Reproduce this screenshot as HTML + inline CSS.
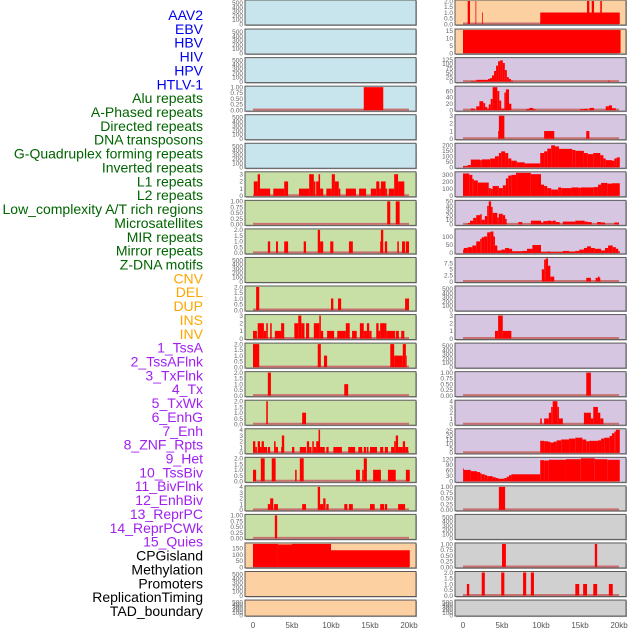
<!DOCTYPE html>
<html><head><meta charset="utf-8"><style>
html,body{margin:0;padding:0;background:#fff;width:630px;height:630px;overflow:hidden}
svg{display:block}
.lbl{font-family:"Liberation Sans",sans-serif;font-size:14px}
.tk{font-family:"Liberation Sans",sans-serif;font-size:6.5px;fill:#666}
.xt{font-family:"Liberation Sans",sans-serif;font-size:8px;fill:#555}
</style></head><body>
<svg id="chart" width="630" height="630" viewBox="0 0 630 630" xmlns="http://www.w3.org/2000/svg"></svg>
<script>
const labelNames=["AAV2","EBV","HBV","HIV","HPV","HTLV-1","Alu repeats","A-Phased repeats","Directed repeats","DNA transposons","G-Quadruplex forming repeats","Inverted repeats","L1 repeats","L2 repeats","Low_complexity A/T rich regions","Microsatellites","MIR repeats","Mirror repeats","Z-DNA motifs","CNV","DEL","DUP","INS","INV","1_TssA","2_TssAFlnk","3_TxFlnk","4_Tx","5_TxWk","6_EnhG","7_Enh","8_ZNF_Rpts","9_Het","10_TssBiv","11_BivFlnk","12_EnhBiv","13_ReprPC","14_ReprPCWk","15_Quies","CPGisland","Methylation","Promoters","ReplicationTiming","TAD_boundary"];
const labelColors=["#0000ee","#0000ee","#0000ee","#0000ee","#0000ee","#0000ee","#006400","#006400","#006400","#006400","#006400","#006400","#006400","#006400","#006400","#006400","#006400","#006400","#006400","#ffa500","#ffa500","#ffa500","#ffa500","#ffa500","#a020f0","#a020f0","#a020f0","#a020f0","#a020f0","#a020f0","#a020f0","#a020f0","#a020f0","#a020f0","#a020f0","#a020f0","#a020f0","#a020f0","#a020f0","#000","#000","#000","#000","#000"];
const xTickKb=[0,5,10,15,20];
const xTickLabels=["0","5kb","10kb","15kb","20kb"];
const emptyTicks=[0,100,200,300,400,500];
// left column segments [startKb,endKb,value]
const L3=[[14.2,16.7,1]];
const L6=[[0.1,0.6,2],[0.6,0.9,3],[0.9,2.2,1],[2.6,4,1],[4,4.5,2],[5.9,7.2,1],[7.2,7.8,3],[7.8,8.0,2],[8.1,8.4,2],[8.4,8.6,3],[8.6,9,1],[9.4,10.1,1],[10.1,10.5,3],[10.5,11,2],[11,11.2,1],[11.9,13.2,1],[13.6,14.5,1],[15.1,15.8,1],[15.8,16.2,2],[16.2,16.4,1],[16.4,17,2],[17,17.2,1],[17.4,18.1,1],[18.1,18.6,3],[18.6,19.4,2]];
const L7=[[17.2,17.6,1],[18.3,18.8,1]];
const L8=[[1.9,2.2,1],[2.95,3.2,1],[4,4.5,1],[6.5,6.8,1],[8.3,8.6,2],[8.6,9,1],[9.9,10.3,1],[12.3,12.8,1],[16.3,16.4,1],[16.4,16.7,2],[16.9,17.2,1],[18.5,18.7,1],[19.1,19.5,1],[19.6,20,1]];
const L10=[[0.4,0.8,2],[10,10.3,1],[10.9,11.3,1],[19.5,20,1]];
const L11=[[0,0.5,1],[0.6,1.4,2],[1.4,1.7,1],[1.7,1.9,2],[2.2,2.4,2],[2.8,3.6,1],[3.6,4,2],[5.3,5.8,2],[5.8,6.2,3],[6.2,6.6,2],[6.8,7.2,2],[7.8,8.5,2],[8.5,8.7,3],[8.7,9,1],[9.5,10.4,1],[10.8,11.9,1],[11.9,12.4,2],[12.7,13.3,1],[13.7,14.2,2],[14.2,14.6,1],[14.6,14.9,2],[14.9,15.2,1],[15.8,16.1,2],[16.1,16.3,1],[16.3,16.8,2],[16.8,17.1,2],[17.1,17.3,1],[17.3,18.2,1],[18.3,18.7,1],[19,19.4,1]];
const L12=[[0,0.8,2],[8.3,8.7,2],[9.1,9.5,1],[17.6,18.1,2],[18.1,19.2,1],[19.2,19.6,2],[19.6,19.7,1]];
const L13=[[1.9,2.3,2],[11.7,12.2,1]];
const L14=[[1.7,1.9,2],[6.3,6.8,1]];
const L15=[[0,0.3,2],[0.3,0.5,1],[0.6,0.9,2],[0.9,1.1,1],[1.1,1.4,2],[1.4,1.8,1],[1.9,2.2,1],[2.7,2.9,2],[2.9,3.2,1],[3.6,3.7,1],[3.7,4,3],[5,5.3,1],[6,6.8,1],[6.9,7.2,2],[7.2,7.5,1],[7.6,7.8,2],[7.8,8.1,1],[8.1,8.4,2],[8.4,8.6,4],[8.6,9.2,1],[9.4,9.7,1],[10.3,11.4,1],[12.2,13.1,1],[13.5,14,1],[14.2,14.5,1],[14.6,14.8,1],[15,15.9,1],[16.3,16.7,1],[16.9,17.3,1],[17.7,18.1,1],[18.1,18.3,2],[18.3,18.6,3],[18.6,19.2,1],[19.2,19.5,2],[19.5,19.9,1]];
const L16=[[0,0.4,1],[1,1.5,2],[2.4,2.9,2],[5.4,5.6,1],[6,6.5,2],[13.2,13.7,1],[14,14.2,1],[14.2,14.6,2],[15.4,16.4,1],[17.3,18.3,1],[19.6,20.1,1]];
const L17=[[1.9,2.2,1],[2.2,2.6,2],[2.7,3.2,1],[6.3,6.8,1],[8.3,8.6,4],[8.6,9,1],[9,9.3,2],[9.4,9.7,1],[11.7,12.1,1],[12.3,12.8,1],[15,15.6,1],[16.3,16.8,1],[16.9,17.2,1],[18.6,19.5,1]];
const L18=[[2.8,3.1,1]];
const L19=[[0,3.2,186],[3.2,5,182],[5,10,186],[10,20.1,135]];
// right column segments
const R0=[[0.6,0.9,2],[1.6,1.7,2],[2.45,2.55,1],[9.9,20.1,1],[15.9,16.2,2],[16.5,16.8,2],[17.6,17.8,2]];
const R1=[[0,20.2,15.5]];
const R2=[[1,1.7,3],[1.7,3.2,10],[3.2,3.46,15],[3.46,3.72,20],[3.72,3.98,35],[3.98,4.24,60],[4.24,4.5,90],[4.5,4.76,115],[4.76,5.1,120],[5.1,5.36,105],[5.36,5.62,65],[5.62,5.88,25],[5.88,6.14,15],[6.14,6.4,5],[18.6,18.8,5]];
const R3=[[1,1.5,5],[1.7,2.1,12],[2.1,2.6,28],[2.6,2.85,22],[2.85,3.1,10],[3.1,3.3,5],[3.3,3.55,18],[3.55,3.8,35],[3.8,4.4,72],[4.4,4.65,60],[4.65,4.9,30],[4.9,5.3,5],[5.3,5.5,55],[5.5,5.9,65],[5.9,6.2,20],[8.1,8.5,3],[8.5,9,7],[9,9.3,3],[15,15.5,3],[15.5,16,4],[16.2,16.8,7],[18.3,18.7,12],[18.7,19.1,15],[19.1,19.6,6]];
const R4=[[4.5,4.6,1],[4.6,5.3,3],[10.4,11.7,1],[15.8,16.2,1]];
const R5=[[0,0.6,10],[0.6,1,20],[1,2.2,70],[2.2,2.4,65],[2.4,3.5,72],[3.5,4.1,80],[4.1,4.6,100],[4.6,4.9,130],[4.9,5.4,145],[5.4,5.8,130],[5.8,6.2,80],[6.2,6.9,60],[6.9,7.9,45],[7.9,9.9,35],[9.9,10.4,130],[10.4,10.8,145],[10.8,11.3,170],[11.3,11.8,200],[11.8,12.3,190],[12.3,14,168],[14,14.4,158],[14.4,15.5,150],[15.5,16,130],[16,16.7,120],[16.7,17.6,130],[17.6,18,110],[18,18.3,80],[18.3,19.1,65],[19.1,19.4,60],[19.4,19.7,80],[19.7,20.1,90]];
const R6=[[0,0.8,320],[0.8,1.2,300],[1.2,1.4,240],[1.4,1.9,220],[1.9,3.3,190],[3.3,3.55,110],[3.55,3.8,100],[3.8,4.6,140],[4.6,5.1,110],[5.1,5.5,150],[5.5,5.8,250],[5.8,6.2,290],[6.2,6.8,300],[6.8,8.7,330],[8.7,10,310],[10,10.4,160],[10.4,10.8,140],[10.8,11.3,110],[11.3,12.2,90],[12.2,12.6,120],[12.6,13.9,110],[13.9,14.8,120],[14.8,15.1,115],[15.1,16.7,120],[16.7,17.3,125],[17.3,17.7,160],[17.7,18.5,185],[18.5,19.1,175],[19.1,20.1,180]];
const R7=[[0.6,0.9,3],[0.9,1.3,8],[1.3,1.7,14],[1.7,2.2,20],[2.2,2.4,22],[2.4,2.8,10],[2.8,3.1,18],[3.1,3.3,40],[3.3,3.6,50],[3.6,3.8,38],[3.8,4.4,25],[4.4,4.6,15],[4.6,5.1,23],[5.1,5.4,20],[5.4,5.6,12],[7.1,7.6,5],[8.7,10,8],[10,10.3,4],[10.3,10.8,7],[10.8,11.3,8],[11.3,11.5,7],[11.5,11.9,8],[11.9,12.4,5],[12.8,14.4,6],[14.4,15.6,8],[15.6,16,6],[16,16.5,5],[17.2,17.7,5],[17.7,18.2,4],[19.4,20,4]];
const R8=[[0,0.1,20],[0.1,0.6,30],[0.6,1.2,35],[1.2,1.7,45],[1.7,2.2,70],[2.2,2.4,85],[2.4,2.7,95],[2.7,3.1,100],[3.1,3.5,125],[3.5,3.9,130],[3.9,4.1,100],[4.1,4.4,45],[4.4,4.9,15],[4.9,5.4,20],[5.4,5.9,30],[5.9,6.3,25],[6.3,7.6,10],[7.6,8.2,12],[8.2,8.9,25],[8.9,10,48],[10,10.8,5],[10.8,11.2,8],[11.2,12.8,5],[12.8,13.6,12],[13.6,14.4,8],[14.4,14.9,12],[14.9,15.5,20],[15.5,15.9,30],[15.9,16.4,40],[16.4,16.9,30],[16.9,17.7,25],[17.7,18.2,15],[18.2,18.6,30],[18.6,19.2,45],[19.2,19.6,35],[19.6,19.9,25],[19.9,20.1,10]];
const R9=[[10.1,10.4,5],[10.4,10.6,9],[10.6,10.9,9.5],[10.9,11.2,6.5],[11.2,11.7,2],[15.8,16.4,1.5],[17,17.3,1.5],[17.3,17.5,2],[17.5,17.6,1.5]];
const R11=[[4.1,4.5,1],[4.5,5.1,3],[5.1,6.2,1]];
const R13=[[15.8,16.4,1]];
const R14=[[9.9,10.1,1],[10.4,11,1],[11,11.3,2],[11.3,11.5,3],[11.5,12.1,4],[12.1,12.3,3],[12.3,12.8,1],[15.5,16.4,2],[16.4,16.7,1],[16.7,17.3,3],[17.3,17.6,2],[17.6,18,1]];
const R15=[[9.9,10.4,13.5],[10.4,10.9,13],[10.9,11.2,12.5],[11.2,11.6,11.5],[11.6,12,12.5],[12,12.6,14],[12.6,13.6,15],[13.6,14.4,16],[14.4,15.3,17],[15.3,15.8,15],[15.8,16.2,13],[16.2,17.3,13.5],[17.3,17.7,14],[17.7,18.1,16],[18.1,18.8,17],[18.8,19.1,19],[19.1,19.4,22],[19.4,19.6,24],[19.6,20.1,26]];
const R16=[[0,0.1,70],[0.1,1,62],[1,1.8,55],[1.8,2.2,50],[2.2,2.4,43],[2.4,2.8,38],[2.8,3.1,33],[3.1,3.8,28],[3.8,4.2,22],[4.2,4.5,18],[4.5,5.3,14],[5.3,5.6,18],[5.6,5.9,25],[5.9,6.2,33],[6.2,9.9,38],[9.9,10.4,115],[10.4,11,113],[11,13.2,117],[13.2,15.1,120],[15.1,16.9,125],[16.9,18.5,120],[18.5,20.1,117]];
const R17=[[4.6,5.4,1]];
const R19=[[5,5.5,1],[16.9,17.2,1]];
const R20=[[0.5,0.8,1],[2.4,2.8,2],[4.9,5.3,2],[7.7,8.1,2],[8.7,9.1,2],[14.4,14.9,1],[15.4,15.9,1],[16.7,17.2,1],[18.7,19.2,1]];
// y-axis maxima and tick labels per panel (null = empty panel)
const leftMax=[null,null,null,1,null,null,3.2,1,2,null,2,3,2,2,2,4,2,4,1,186,null,null];
const rightMax=[2,15.5,130,72,3,210,330,50,140,9.5,null,3,null,1,4,26,125,1,null,1,2,null];
const leftTicks=[null,null,null,[0,0.25,0.5,0.75,1],null,null,[0,1,2,3],[0,0.25,0.5,0.75,1],[0,0.5,1,1.5,2],null,[0,0.5,1,1.5,2],[0,1,2,3],[0,0.5,1,1.5,2],[0,0.5,1,1.5,2],[0,0.5,1,1.5,2],[0,1,2,3,4],[0,0.5,1,1.5,2],[0,1,2,3,4],[0,0.25,0.5,0.75,1],[0,50,100,150],null,null];
const rightTicks=[[0,0.5,1,1.5,2],[0,5,10,15],[0,25,50,75,100,125],[0,20,40,60],[0,1,2,3],[0,50,100,150,200],[0,100,200,300],[0,10,20,30,40,50],[0,50,100],[0,2.5,5,7.5],null,[0,1,2,3],null,[0,0.25,0.5,0.75,1],[0,1,2,3,4],[0,5,10,15,20,25],[0,30,60,90,120],[0,0.25,0.5,0.75,1],null,[0,0.25,0.5,0.75,1],[0,0.5,1,1.5,2],null];
const leftSegs=[[],[],[],L3,[],[],L6,L7,L8,[],L10,L11,L12,L13,L14,L15,L16,L17,L18,L19,[],[]];
const rightSegs=[R0,R1,R2,R3,R4,R5,R6,R7,R8,R9,[],R11,[],R13,R14,R15,R16,R17,[],R19,R20,[]];
const leftBg=["#c8e4ec","#c8e4ec","#c8e4ec","#c8e4ec","#c8e4ec","#c8e4ec","#c8e0a6","#c8e0a6","#c8e0a6","#c8e0a6","#c8e0a6","#c8e0a6","#c8e0a6","#c8e0a6","#c8e0a6","#c8e0a6","#c8e0a6","#c8e0a6","#c8e0a6","#fdd0a2","#fdd0a2","#fdd0a2"];
const rightBg=["#fdd0a2","#fdd0a2","#d6c6e2","#d6c6e2","#d6c6e2","#d6c6e2","#d6c6e2","#d6c6e2","#d6c6e2","#d6c6e2","#d6c6e2","#d6c6e2","#d6c6e2","#d6c6e2","#d6c6e2","#d6c6e2","#d6c6e2","#d0d0d0","#d0d0d0","#d0d0d0","#d0d0d0","#d0d0d0"];

const NS="http://www.w3.org/2000/svg";
const svg=document.getElementById('chart');
function mk(tag,attrs,parent){const e=document.createElementNS(NS,tag);for(const k in attrs)e.setAttribute(k,attrs[k]);(parent||svg).appendChild(e);return e;}
function rowTop(i){return i===0?0:0.5+28.55*i;}
function rowH(i){return i===0?25:(i===21?16:25);}
const cols=[{x0:245,w:171,zero:253,bg:leftBg,segs:leftSegs,max:leftMax,ticks:leftTicks,side:'left'},{x0:455,w:171,zero:463,bg:rightBg,segs:rightSegs,max:rightMax,ticks:rightTicks,side:'right'}];
const pxPerKb=7.8;

// labels
labelNames.forEach((t,i)=>{
  const el=mk('text',{x:203,y:15+13.86*i+5,'text-anchor':'end',class:'lbl',fill:labelColors[i]});
  
  
  el.textContent=t;
});

cols.forEach(c=>{
  const xs=kb=>c.zero+kb*pxPerKb;
  for(let i=0;i<22;i++){
    const top=rowTop(i),h=rowH(i),bot=top+h;
    const g=mk('g',{});
    
    
    mk('rect',{x:c.x0+1,y:top+1,width:c.w,height:h,fill:'#aaa'},g);
    mk('rect',{x:c.x0,y:top,width:c.w,height:h,fill:c.bg[i],stroke:'#5a5a5a','stroke-width':1},g);
    const inTop=top+1,inBot=bot-1;
    const m=c.max[i];
    if(m!==null){
      const ys=v=>inBot-(v/m)*(inBot-inTop);
      mk('line',{x1:xs(0),x2:xs(20),y1:inBot-0.5,y2:inBot-0.5,stroke:'#c87070','stroke-width':2},g);
      c.segs[i].forEach(s=>{
        const r=mk('rect',{x:xs(s[0]),y:ys(s[2]),width:Math.max(0.8,(s[1]-s[0])*pxPerKb),height:inBot-ys(s[2]),fill:'#ff0000'},g);
        
        
      });
      c.ticks[i].forEach(v=>{
        const t=mk('text',{x:c.x0-2,y:ys(v)+2.3,'text-anchor':'end',class:'tk'},g);
        
        
        t.textContent=(m<=2&&m>1.5)?v.toFixed(1):(m===1?v.toFixed(2):String(v));
      });
    } else {
      emptyTicks.forEach(v=>{
        const y=inBot-(v/540)*(inBot-inTop);
        const t=mk('text',{x:c.x0-2,y:y+2.3,'text-anchor':'end',class:'tk'},g);
        
        
        t.textContent=String(v);
      });
    }
  }
  xTickKb.forEach((k,j)=>{
    const t=mk('text',{x:xs(k),y:628,'text-anchor':'middle',class:'xt'});
    
    
    t.textContent=xTickLabels[j];
  });
});
</script>
</body></html>
